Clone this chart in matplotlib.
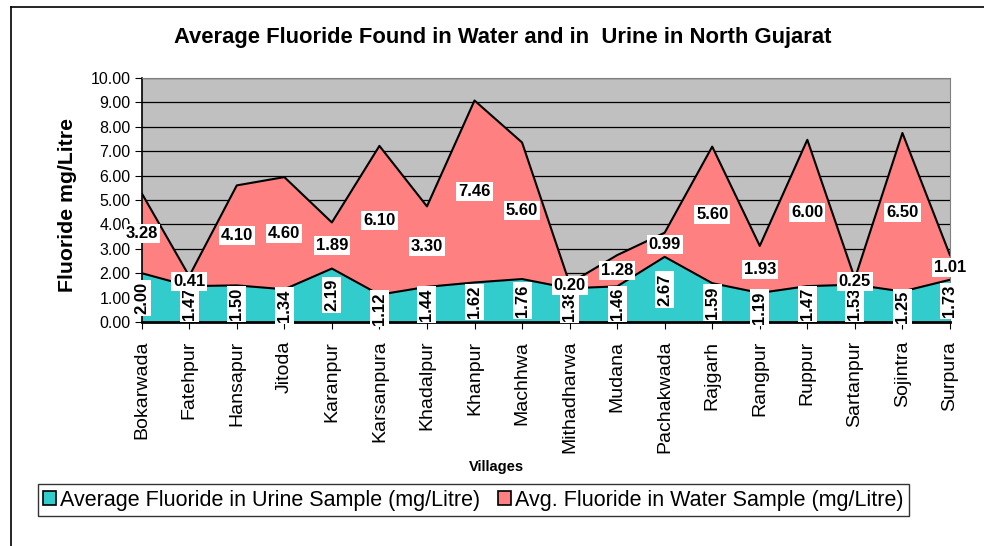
import numpy as np
import matplotlib
matplotlib.use("Agg")
import matplotlib.pyplot as plt
from matplotlib.lines import Line2D

plt.rcParams['font.family'] = ['Liberation Sans', 'DejaVu Sans']

# village data
villages = ['Bokarwada', 'Fatehpur', 'Hansapur', 'Jitoda', 'Karanpur', 'Karsanpura',
            'Khadalpur', 'Khanpur', 'Machhwa', 'Mithadharwa', 'Mudana', 'Pachakwada',
            'Rajgarh', 'Rangpur', 'Ruppur', 'Sartanpur', 'Sojintra', 'Surpura']
urine = [2.00, 1.47, 1.50, 1.34, 2.19, 1.12, 1.44, 1.62, 1.76, 1.38, 1.46, 2.67,
         1.59, 1.19, 1.47, 1.53, 1.25, 1.73]
water = [3.28, 0.41, 4.10, 4.60, 1.89, 6.10, 3.30, 7.46, 5.60, 0.20, 1.28, 0.99,
         5.60, 1.93, 6.00, 0.25, 6.50, 1.01]
yticks = np.arange(0, 11, 1)

teal = '#33CCCC'
salmon = '#FF8080'

x = np.arange(len(villages))
u = np.array(urine)
w = np.array(water)
top = u + w

fig = plt.figure(figsize=(9.84, 5.46), dpi=100)
ax = fig.add_axes([0.144, 0.4103, 0.8214, 0.4467])
ax.set_facecolor('#C0C0C0')

# stacked areas with black outlines
ax.fill_between(x, 0, u, color=teal, zorder=2, lw=0)
ax.fill_between(x, u, top, color=salmon, zorder=2, lw=0)
ax.plot(x, u, color='black', lw=1.5, zorder=3)
ax.plot(x, top, color='black', lw=1.5, zorder=3)

ax.set_xlim(0, len(villages) - 1)
ax.set_ylim(0, 10)
ax.set_yticks(yticks)
ax.set_yticklabels([f'{v:.2f}' for v in yticks], fontsize=11.5)
ax.yaxis.grid(True, color='black', lw=0.9)
ax.set_axisbelow(True)

ax.set_xticks(x)
ax.set_xticklabels(villages, rotation=90, fontsize=14)
ax.tick_params(axis='x', length=5, pad=8.5)
ax.tick_params(axis='y', length=5, pad=3)
for s in ['top', 'right']:
    ax.spines[s].set_color('#808080')
ax.spines['bottom'].set_linewidth(2)
ax.spines['left'].set_linewidth(1.2)

box = dict(boxstyle='square,pad=0.12', fc='white', ec='none')
for i in x:
    ax.text(i, u[i] / 2, f'{u[i]:.2f}', rotation=90, ha='center', va='center',
            fontsize=12, fontweight='bold', bbox=box, zorder=5, clip_on=False)
for i in x:
    ax.text(i, u[i] + w[i] / 2, f'{w[i]:.2f}', ha='center', va='center',
            fontsize=12, fontweight='bold', bbox=box, zorder=6, clip_on=False)

fig.text(0.511, 0.932, 'Average Fluoride Found in Water and in  Urine in North Gujarat',
         ha='center', va='center', fontsize=15.8, fontweight='bold')
fig.text(0.069, 0.625, 'Fluoride mg/Litre', rotation=90, ha='center', va='center',
         fontsize=15.3, fontweight='bold')
fig.text(0.505, 0.145, 'Villages', ha='center', va='center', fontsize=10.5, fontweight='bold')

handles = [plt.Rectangle((0, 0), 1, 1, fc=teal, ec='black', lw=1.2),
           plt.Rectangle((0, 0), 1, 1, fc=salmon, ec='black', lw=1.2)]
leg = fig.legend(handles, ['Average Fluoride in Urine Sample (mg/Litre)',
                           'Avg. Fluoride in Water Sample (mg/Litre)'],
                 loc='center', bbox_to_anchor=(0.481, 0.084), ncol=2, fontsize=15.5,
                 fancybox=False, edgecolor='black', handlelength=0.6, handleheight=0.6,
                 handletextpad=0.2, columnspacing=0.8, borderpad=0.25)
leg.get_frame().set_linewidth(1.0)

# outer chart border (left and top only visible)
fy = 1 - 7 / 546
fx = 11 / 984
fig.add_artist(Line2D([fx, fx], [0, fy], color='black', lw=1.2, transform=fig.transFigure))
fig.add_artist(Line2D([fx, 1], [fy, fy], color='black', lw=1.2, transform=fig.transFigure))

fig.savefig('out.png', dpi=100)
